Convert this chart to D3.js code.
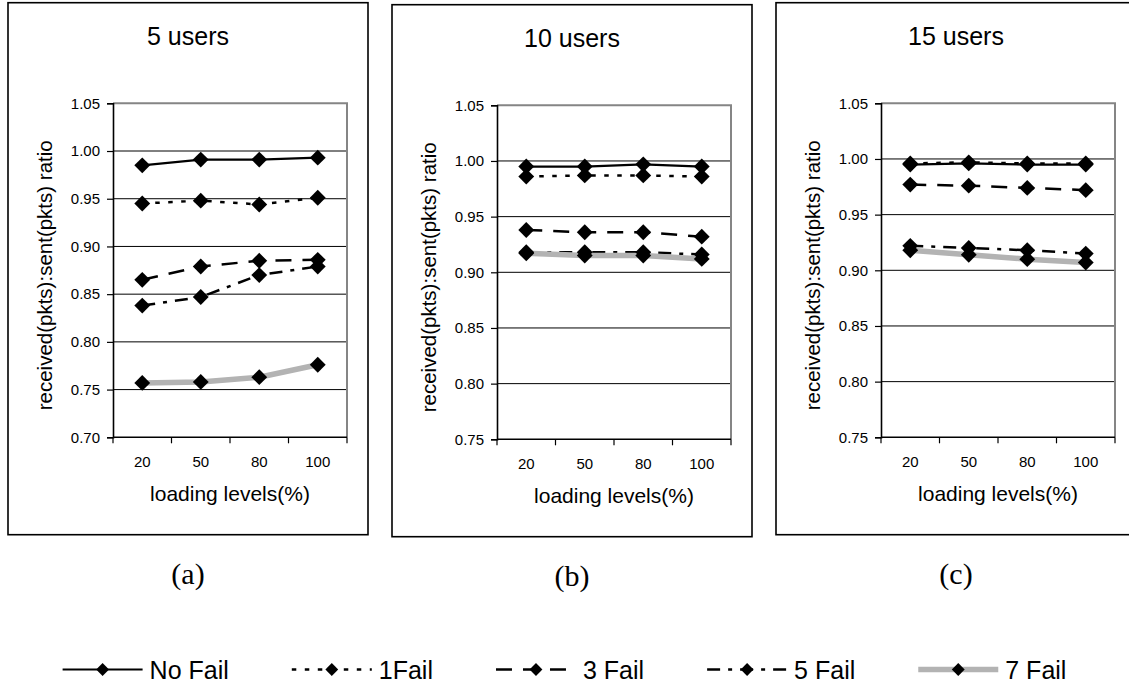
<!DOCTYPE html>
<html>
<head>
<meta charset="utf-8">
<script src="https://cdn.jsdelivr.net/npm/d3@7"></script>
<style>
  html, body { margin: 0; padding: 0; background: #fff; }
  svg { display: block; }
  text { font-family: "Liberation Sans", Arial, sans-serif; fill: #000; }
</style>
</head>
<body>
<svg id="chart" width="1129" height="685"></svg>
<script>
// ---- categories and labels ----
const loadLevels = ["20", "50", "80", "100"];
const seriesNames = ["No Fail", "1Fail", "3 Fail", "5 Fail", "7 Fail"];
const panelTitles = ["5 users", "10 users", "15 users"];
const panelCaptions = ["(a)", "(b)", "(c)"];
const xAxisTitle = "loading levels(%)";
const yAxisTitle = "received(pkts):sent(pkts) ratio";

// ---- received:sent ratio, 5 users ----
const noFail5 = [0.985, 0.991, 0.991, 0.993];
const oneFail5 = [0.945, 0.948, 0.944, 0.951];
const threeFail5 = [0.865, 0.879, 0.885, 0.886];
const fiveFail5 = [0.838, 0.847, 0.870, 0.879];
const sevenFail5 = [0.757, 0.758, 0.763, 0.776];

// ---- received:sent ratio, 10 users ----
const noFail10 = [0.995, 0.995, 0.997, 0.995];
const oneFail10 = [0.986, 0.987, 0.987, 0.986];
const threeFail10 = [0.938, 0.936, 0.936, 0.932];
const fiveFail10 = [0.918, 0.918, 0.918, 0.916];
const sevenFail10 = [0.917, 0.915, 0.915, 0.912];

// ---- received:sent ratio, 15 users ----
const noFail15 = [0.995, 0.996, 0.995, 0.995];
const oneFail15 = [0.996, 0.997, 0.996, 0.996];
const threeFail15 = [0.977, 0.976, 0.974, 0.972];
const fiveFail15 = [0.922, 0.920, 0.918, 0.915];
const sevenFail15 = [0.918, 0.914, 0.910, 0.907];

// ---- y-axis tick values ----
const yTicks5 = [0.70, 0.75, 0.80, 0.85, 0.90, 0.95, 1.00, 1.05];
const yTicks10 = [0.75, 0.80, 0.85, 0.90, 0.95, 1.00, 1.05];
const yTicks15 = [0.75, 0.80, 0.85, 0.90, 0.95, 1.00, 1.05];

const panels = [
  { title: panelTitles[0], caption: panelCaptions[0], ticks: yTicks5,
    series: [noFail5, oneFail5, threeFail5, fiveFail5, sevenFail5] },
  { title: panelTitles[1], caption: panelCaptions[1], ticks: yTicks10,
    series: [noFail10, oneFail10, threeFail10, fiveFail10, sevenFail10] },
  { title: panelTitles[2], caption: panelCaptions[2], ticks: yTicks15,
    series: [noFail15, oneFail15, threeFail15, fiveFail15, sevenFail15] }
];

// line styles per series (black/white patterns, grey band for the last one)
const lineStyles = [
  { stroke: "#000", width: 2.2, dash: null },
  { stroke: "#000", width: 2.5, dash: "4.5,8.5" },
  { stroke: "#000", width: 2.5, dash: "16,11" },
  { stroke: "#000", width: 2.5, dash: "13,8,4,8" },
  { stroke: "#b3b3b3", width: 5.5, dash: null }
];

const svg = d3.select("#chart");

// panel frame layout
const frameX = [8, 392, 776];
const frameY = [2.7, 4.7, 2.7];
const frameW = 360, frameH = 532;
const plotLeft = 105, plotTop = 100.6, plotW = 234, plotH = 334;

const diamond = d3.symbol().type(d3.symbolDiamond2).size(160);

panels.forEach((p, pi) => {
  const g = svg.append("g").attr("transform", `translate(${frameX[pi]},${frameY[pi]})`);

  // outer frame
  g.append("rect")
    .attr("x", 0).attr("y", 0).attr("width", frameW).attr("height", frameH)
    .attr("fill", "#fff").attr("stroke", "#000").attr("stroke-width", 1.6);

  // title
  g.append("text")
    .attr("x", frameW / 2).attr("y", 42)
    .attr("text-anchor", "middle")
    .style("font-size", "25px")
    .text(p.title);

  const x = d3.scaleBand().domain(loadLevels).range([plotLeft, plotLeft + plotW]).padding(0);
  const y = d3.scaleLinear().domain([p.ticks[0], p.ticks[p.ticks.length - 1]])
    .range([plotTop + plotH, plotTop]);

  // gridlines
  g.append("g").selectAll("line")
    .data(p.ticks.slice(1, -1))
    .join("line")
    .attr("x1", plotLeft).attr("x2", plotLeft + plotW)
    .attr("y1", d => y(d)).attr("y2", d => y(d))
    .attr("stroke", "#000").attr("stroke-width", 1);

  // plot area border (top and right, grey)
  g.append("path")
    .attr("d", `M${plotLeft},${y(p.ticks[p.ticks.length - 1])}H${plotLeft + plotW}V${plotTop + plotH}`)
    .attr("fill", "none").attr("stroke", "#858585").attr("stroke-width", 2);

  // y axis
  const yAxis = g.append("g")
    .attr("transform", `translate(${plotLeft},0)`)
    .call(d3.axisLeft(y).tickValues(p.ticks).tickSizeOuter(0).tickSize(6).tickPadding(7)
      .tickFormat(d3.format(".2f")));
  yAxis.select(".domain").attr("stroke", "#000").attr("stroke-width", 1.6);
  yAxis.selectAll(".tick line").attr("stroke", "#000").attr("stroke-width", 1.2);
  yAxis.selectAll("text").style("font-size", "15px").attr("fill", "#000")
    .style("font-family", "'Liberation Sans', Arial, sans-serif");

  // x axis (labels centred in categories, tick marks on category boundaries)
  const xAxis = g.append("g")
    .attr("transform", `translate(0,${plotTop + plotH})`)
    .call(d3.axisBottom(x).tickSize(0).tickPadding(19));
  xAxis.select(".domain").remove();
  xAxis.selectAll("text").style("font-size", "15px").attr("fill", "#000")
    .style("font-family", "'Liberation Sans', Arial, sans-serif");
  xAxis.append("line")
    .attr("x1", plotLeft).attr("x2", plotLeft + plotW)
    .attr("stroke", "#000").attr("stroke-width", 1.6);
  const bounds = loadLevels.map(d => x(d)).concat([x.range()[1]]);
  xAxis.selectAll(".bound")
    .data(bounds)
    .join("line")
    .attr("class", "bound")
    .attr("x1", d => d).attr("x2", d => d)
    .attr("y1", 0).attr("y2", 6)
    .attr("stroke", "#000").attr("stroke-width", 1.2);

  // axis titles
  g.append("text")
    .attr("x", plotLeft + plotW / 2).attr("y", plotTop + plotH + 64)
    .attr("text-anchor", "middle")
    .style("font-size", "21px")
    .text(xAxisTitle);
  g.append("text")
    .attr("transform", `translate(${plotLeft - 61},${plotTop + plotH / 2 + 5}) rotate(-90)`)
    .attr("text-anchor", "middle")
    .style("font-size", "20.5px")
    .text(yAxisTitle);

  // series lines
  const cx = i => x(loadLevels[i]) + x.bandwidth() / 2;
  const line = d3.line().x((d, i) => cx(i)).y(d => y(d));
  p.series.forEach((vals, si) => {
    const st = lineStyles[si];
    g.append("path")
      .datum(vals)
      .attr("d", line)
      .attr("fill", "none")
      .attr("stroke", st.stroke)
      .attr("stroke-width", st.width)
      .attr("stroke-dasharray", st.dash);
  });
  // markers
  p.series.forEach(vals => {
    g.append("g").selectAll("path")
      .data(vals)
      .join("path")
      .attr("d", diamond)
      .attr("transform", (d, i) => `translate(${cx(i)},${y(d)})`)
      .attr("fill", "#000");
  });

  // caption under the frame
  g.append("text")
    .attr("x", frameW / 2).attr("y", 581)
    .attr("text-anchor", "middle")
    .style("font-family", "'Liberation Serif', 'Times New Roman', serif")
    .style("font-size", "30px")
    .text(p.caption);
});

// ---- legend ----
const legend = svg.append("g");
const legendY = 669.5, lineLen = 80, textGap = 7, itemGap = 63;
const legendDiamond = d3.symbol().type(d3.symbolDiamond2).size(105);
let lx = 0;
seriesNames.forEach((name, si) => {
  const it = legend.append("g").attr("transform", `translate(${lx},0)`);
  const st = lineStyles[si];
  it.append("line")
    .attr("x1", 0).attr("x2", lineLen).attr("y1", legendY).attr("y2", legendY)
    .attr("stroke", st.stroke).attr("stroke-width", st.width)
    .attr("stroke-dasharray", st.dash);
  it.append("path")
    .attr("d", legendDiamond)
    .attr("transform", `translate(${lineLen / 2},${legendY})`)
    .attr("fill", "#000");
  const t = it.append("text")
    .attr("x", lineLen + textGap).attr("y", legendY + 9)
    .style("font-size", "25px")
    .text(name);
  lx += lineLen + textGap + t.node().getComputedTextLength() + itemGap;
});
const legendW = lx - itemGap;
legend.attr("transform", `translate(${564.5 - legendW / 2},0)`);
</script>
</body>
</html>
